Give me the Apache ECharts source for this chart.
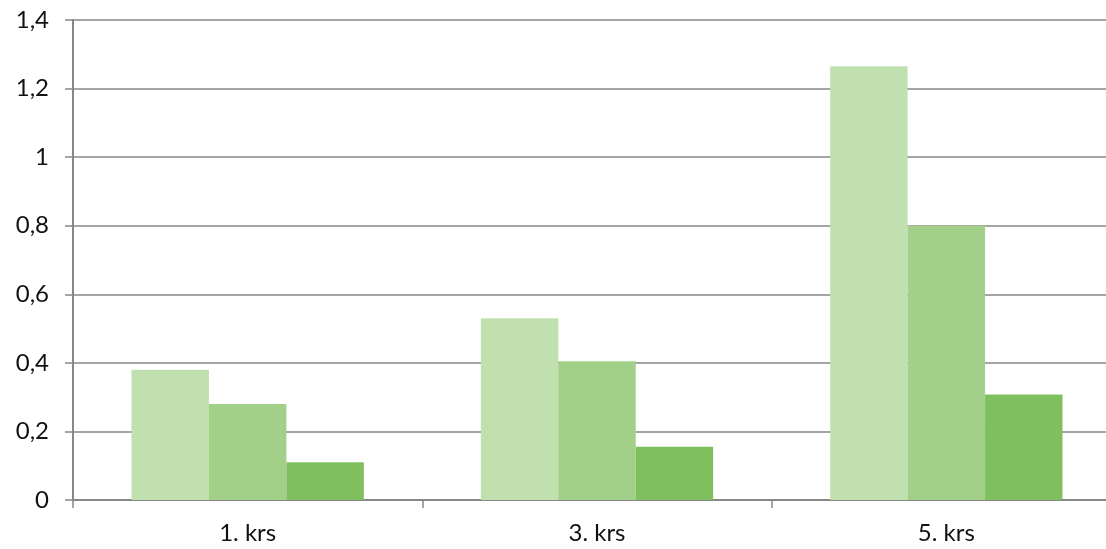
<!DOCTYPE html>
<html><head><meta charset="utf-8">
<script src="https://cdn.jsdelivr.net/npm/echarts@6/dist/echarts.min.js"></script>
<style>html,body{margin:0;padding:0;background:#fff}#c{width:1106px;height:549px}</style>
</head><body><div id="c"></div>
<script>
const categories = ['1. krs', '3. krs', '5. krs'];
const series1 = [0.38, 0.53, 1.265];
const series2 = [0.28, 0.405, 0.80];
const series3 = [0.11, 0.155, 0.308];
const yTicks = {min: 0, max: 1.4, interval: 0.2};

const chart = echarts.init(document.getElementById('c'), null, {renderer: 'canvas'});
const font = 'Lato, "Open Sans", sans-serif';
const gray = '#878787';
chart.setOption({
  animation: false,
  grid: {left: 73, top: 20, width: 1048, height: 480, containLabel: false, outerBoundsMode: 'none'},
  xAxis: {
    type: 'category', data: categories,
    axisLine: {lineStyle: {color: gray, width: 2}},
    axisTick: {show: true, length: 8, lineStyle: {color: gray, width: 1.5}},
    axisLabel: {color: '#111', fontSize: 24, fontFamily: font, margin: 21}
  },
  yAxis: {
    type: 'value', min: yTicks.min, max: yTicks.max, interval: yTicks.interval,
    axisLine: {show: true, lineStyle: {color: gray, width: 2}},
    axisTick: {show: true, length: 8, lineStyle: {color: gray, width: 1.5}},
    splitLine: {lineStyle: {color: gray, width: 1.5}},
    axisLabel: {color: '#111', fontSize: 24, fontFamily: font, margin: 24,
      formatter: v => String(Math.round(v * 10) / 10).replace('.', ',')}
  },
  series: [
    {type: 'bar', data: series1, itemStyle: {color: '#C1E0AF'}, barGap: '0%', barCategoryGap: '33.5%'},
    {type: 'bar', data: series2, itemStyle: {color: '#A2D088'}, barGap: '0%', barCategoryGap: '33.5%'},
    {type: 'bar', data: series3, itemStyle: {color: '#80BF5E'}, barGap: '0%', barCategoryGap: '33.5%'}
  ]
});
</script></body></html>
